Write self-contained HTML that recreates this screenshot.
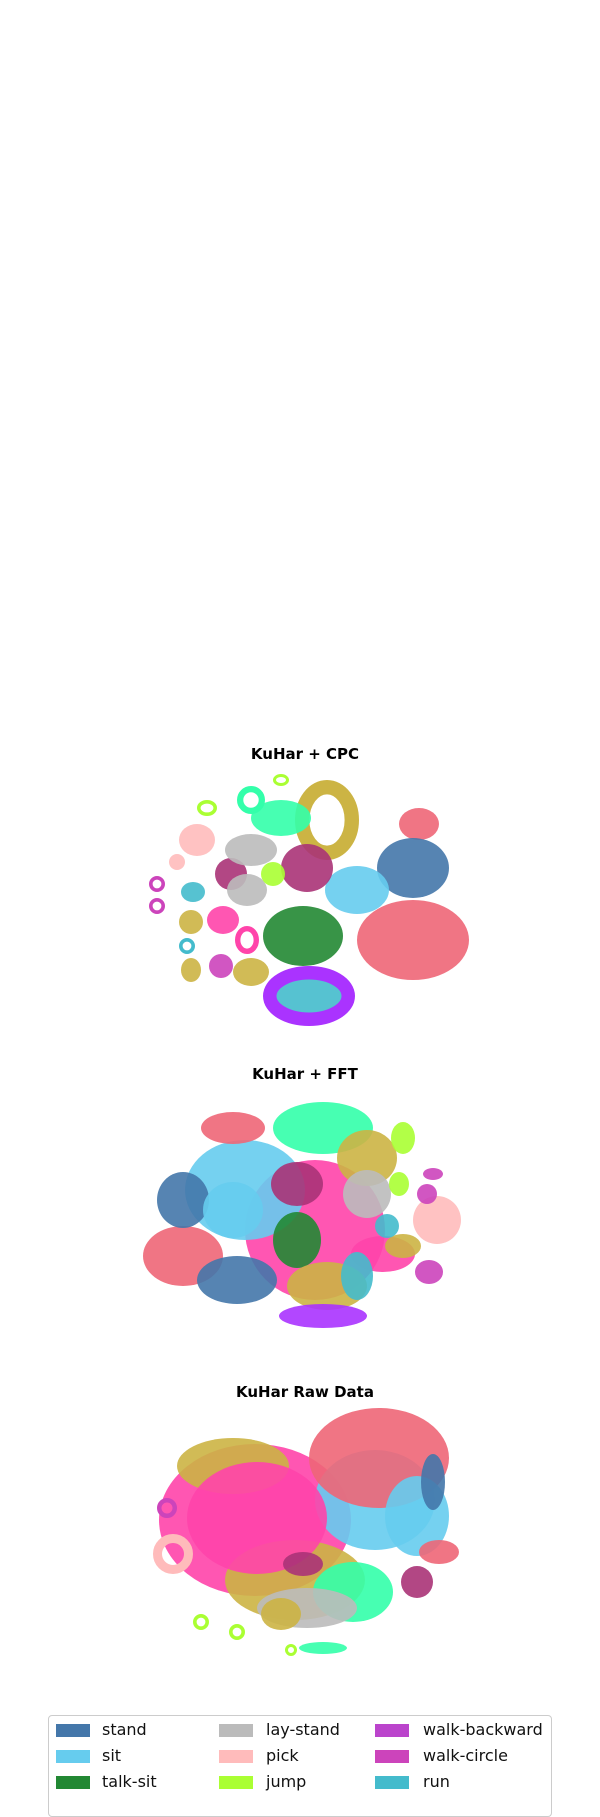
<!DOCTYPE html>
<html><head><meta charset="utf-8"><style>
body{margin:0;background:#fff;width:600px;height:1800px;overflow:hidden;font-family:"DejaVu Sans","Liberation Sans",sans-serif}
#legend{position:absolute;left:48px;top:1715px;width:502px;height:100px;border:1px solid #ccc;border-radius:4px;background:#fff}
.li{position:absolute;font-size:16px;color:#111;line-height:18px}
.sw{position:absolute;width:34px;height:13px}
</style></head><body>
<svg id="chart" width="600" height="1800" style="position:absolute;left:0;top:0"></svg>
<div id="legend"></div>
<script>
const classNames=["stand","sit","talk-sit","lay-stand","pick","jump","walk-backward","walk-circle","run","red","gold","mint","maroon","hotpink","purple"];
const classColors=["#4477aa","#66ccee","#228833","#bbbbbb","#ffbbbb","#aaff33","#bb44cc","#cc44bb","#44bbcc","#ee6677","#ccb444","#33ffaa","#aa3377","#ff44aa","#aa33ff"];
const plotTitles=["KuHar + CPC","KuHar + FFT","KuHar Raw Data"];
const plotCenterY=[890,1210,1530];
const titleY=[759,1079,1397];
// per-plot cluster arrays: class index, x, y, rx, ry, ring(1)
const cpcClass=[10,9,0,9,1,2,12,12,3,3,5,11,11,13,13,4,8,14,10,10,10,7,7,7,8,8,5,5,4];
const cpcX=[11,57,54,54,26,-1,1,-37,-27,-29,-16,-12,-27,-41,-29,-54,2,2,-57,-57,-27,-42,-74,-74,-56,-59,-49,-12,-64];
const cpcY=[35,33,11,-25,0,-23,11,8,20,0,8,36,45,-15,-25,25,-53,-53,-16,-40,-41,-38,3,-8,-1,-28,41,55,14];
const cpcRX=[16,10,18,28,16,20,13,8,13,10,6,15,7,8,6,9,17,23,6,5,9,6,4,4,6,4,5,4,4];
const cpcRY=[20,8,15,20,12,15,12,8,8,8,6,9,7,7,7,8,10,15,6,6,7,6,4,4,5,4,4,3,4];
const cpcRing=[1,0,0,0,0,0,0,0,0,0,0,0,1,0,1,0,0,1,0,0,0,0,1,1,0,1,1,1,0];
const fftClass=[13,1,9,9,0,0,1,12,11,10,3,2,13,10,10,8,8,4,7,7,7,5,5,14];
const fftX=[5,-30,-61,-36,-61,-34,-36,-4,9,31,31,-4,39,11,49,26,41,66,61,64,62,49,47,9];
const fftY=[-10,10,-23,41,5,-35,0,13,41,26,8,-15,-22,-38,-18,-33,-8,-5,8,18,-31,36,13,-53];
const fftRX=[35,30,20,16,13,20,15,13,25,15,12,12,16,20,9,8,6,12,5,5,7,6,5,22];
const fftRY=[35,25,15,8,14,12,14,11,13,14,12,14,9,12,6,12,6,12,5,3,6,8,6,6];
const fftRing=[0,0,0,0,0,0,0,0,0,0,0,0,0,0,0,0,0,0,0,0,0,0,0,0];
const rawClass=[13,10,1,9,1,0,10,13,11,3,12,12,4,7,5,5,5,11,10,9];
const rawX=[-25,-5,35,37,56,64,-36,-24,24,1,-1,56,-66,-69,-52,-34,-7,9,-12,67];
const rawY=[5,-25,15,36,7,24,32,6,-31,-39,-17,-26,-12,11,-46,-51,-60,-59,-42,-11];
const rawRX=[48,35,30,35,16,6,28,35,20,25,10,8,10,5,4,4,3,12,10,10];
const rawRY=[38,20,25,25,20,14,14,28,15,10,6,8,10,5,4,4,3,3,8,6];
const rawRing=[0,0,0,0,0,0,0,0,0,0,0,0,1,1,1,1,1,0,0,0];
const plots=[[cpcClass,cpcX,cpcY,cpcRX,cpcRY,cpcRing],[fftClass,fftX,fftY,fftRX,fftRY,fftRing],[rawClass,rawX,rawY,rawRX,rawRY,rawRing]];
const NS="http://www.w3.org/2000/svg";
const svg=document.getElementById('chart');
const S=2;
function xs(v){return 305+v*S;}
function ys(p,v){return plotCenterY[p]-v*S;}
plots.forEach((d,p)=>{
  const g=document.createElementNS(NS,'g');
  
  
  svg.appendChild(g);
  const t=document.createElementNS(NS,'text');
  
  
  t.setAttribute('x',305);t.setAttribute('y',titleY[p]);
  t.setAttribute('text-anchor','middle');t.setAttribute('font-weight','bold');
  t.setAttribute('font-size','15');t.setAttribute('font-family','DejaVu Sans, Liberation Sans, sans-serif');
  t.textContent=plotTitles[p];g.appendChild(t);
  for(let i=0;i<d[0].length;i++){
    const e=document.createElementNS(NS,'ellipse');
    
    
    e.setAttribute('cx',xs(d[1][i]));e.setAttribute('cy',ys(p,d[2][i]));
    const rx=d[3][i]*S, ry=d[4][i]*S;
    const col=classColors[d[0][i]];
    if(d[5][i]){
      const w=Math.max(3,Math.min(rx,ry)*0.45);
      e.setAttribute('rx',rx-w/2);e.setAttribute('ry',ry-w/2);
      e.setAttribute('fill','none');e.setAttribute('stroke',col);e.setAttribute('stroke-width',w);
    }else{
      e.setAttribute('rx',rx);e.setAttribute('ry',ry);
      e.setAttribute('fill',col);e.setAttribute('opacity','0.9');
    }
    g.appendChild(e);
  }
});
const legendItems=[[0,0,0],[1,0,1],[2,0,2],[3,1,0],[4,1,1],[5,1,2],[6,2,0],[7,2,1],[8,2,2]];
const colX=[7,170,326],txX=[53,217,374];
const lg=document.getElementById('legend');
legendItems.forEach(([c,col,row])=>{
  const sw=document.createElement('div');
  sw.className='sw';
  
  
  sw.style.left=colX[col]+'px';sw.style.top=(8+row*26)+'px';sw.style.background=classColors[c];
  lg.appendChild(sw);
  const tx=document.createElement('div');
  tx.className='li';
  
  
  tx.style.left=txX[col]+'px';tx.style.top=(5+row*26)+'px';tx.textContent=classNames[c];
  lg.appendChild(tx);
});
</script>
</body></html>
